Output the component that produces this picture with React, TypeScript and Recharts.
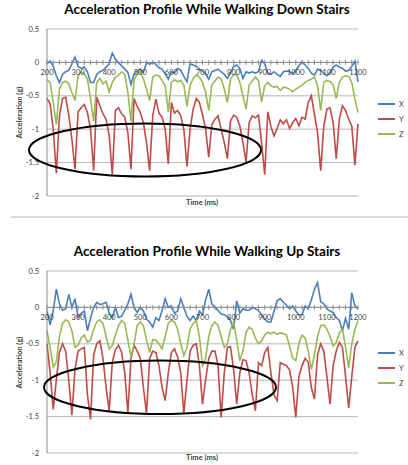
import React from 'react';
import { LineChart, Line, XAxis, YAxis, CartesianGrid, ReferenceLine, ReferenceDot } from 'recharts';

// sample times (ms), one every 10 ms
const TIMES: number[] = Array.from({ length: 101 }, (_, i) => 200 + i * 10);

const LABEL_TICKS = [200, 300, 400, 500, 600, 700, 800, 900, 1000, 1100, 1200];
const MINOR_TICKS: number[] = Array.from({ length: 51 }, (_, i) => 200 + i * 20);
const Y_TICKS = [-2, -1.5, -1, -0.5, 0, 0.5];

// walking down stairs
const DOWN_X = [
  -0.02, 0.02, -0.06, -0.2, -0.3, -0.18, -0.14, -0.12, -0.02, 0.08,
  -0.06, -0.09, -0.07, -0.14, -0.3, -0.3, -0.18, -0.14, -0.12, -0.07,
  -0.02, 0.14, 0.05, -0.01, -0.05, -0.1, -0.15, -0.33, -0.17, -0.13,
  -0.1, -0.15, 0.0, -0.03, 0.0, -0.03, -0.08, -0.1, -0.17, -0.25,
  -0.14, -0.16, -0.09, -0.12, -0.21, -0.29, -0.02, -0.04, -0.06, -0.1,
  -0.13, -0.17, -0.25, -0.14, -0.12, -0.1, -0.14, -0.18, -0.24, -0.16,
  -0.06, -0.04, -0.09, -0.24, -0.14, -0.16, -0.14, -0.16, -0.14, 0.03,
  -0.02, -0.16, -0.18, -0.14, -0.18, -0.21, -0.14, -0.13, -0.14, -0.17,
  -0.12, -0.05, 0.01, -0.04, -0.09, -0.16, -0.19, -0.1, -0.12, -0.16,
  -0.2, -0.15, -0.07, -0.04, -0.07, -0.09, -0.13, -0.12, -0.06, 0.02,
  -0.29,
];
const DOWN_Y = [
  -0.54, -0.62, -1.0, -1.66, -0.8, -0.54, -0.52, -0.79, -1.15, -1.6,
  -0.74, -0.68, -0.63, -0.75, -1.0, -1.62, -0.52, -0.65, -0.77, -0.85,
  -1.1, -1.68, -0.72, -0.68, -0.77, -0.82, -1.05, -1.6, -0.54, -0.66,
  -0.75, -0.9, -1.2, -1.62, -0.8, -0.55, -0.76, -0.82, -1.0, -1.52,
  -0.6, -0.76, -0.72, -0.8, -1.0, -1.56, -1.0, -0.7, -0.54, -0.6,
  -0.78, -1.0, -1.42, -0.93, -0.85, -0.8, -1.0, -1.2, -1.44, -0.88,
  -0.79, -0.82, -0.95, -1.2, -1.49, -0.9, -0.8, -0.83, -0.79, -1.2,
  -1.68, -0.74, -0.96, -1.1, -0.99, -0.86, -0.92, -0.86, -0.99, -0.9,
  -0.84, -0.95, -0.82, -0.85, -0.6, -0.5, -0.78, -1.05, -1.62, -0.95,
  -0.7, -0.68, -0.9, -1.44, -0.85, -0.65, -0.72, -0.85, -0.95, -1.54,
  -0.92,
];
const DOWN_Z = [
  -0.26, -0.3, -0.6, -0.93, -0.4, -0.3, -0.28, -0.32, -0.45, -0.57,
  -0.2, -0.14, -0.17, -0.25, -0.55, -0.88, -0.3, -0.24, -0.32, -0.28,
  -0.44, -0.3, -0.22, -0.19, -0.14, -0.18, -0.45, -0.88, -0.25, -0.18,
  -0.14, -0.25, -0.4, -0.57, -0.22, -0.19, -0.2, -0.27, -0.35, -0.74,
  -0.3, -0.26, -0.29, -0.27, -0.34, -0.66, -0.35, -0.24, -0.19, -0.22,
  -0.3, -0.45, -0.72, -0.34, -0.28, -0.22, -0.25, -0.4, -0.6, -0.25,
  -0.19, -0.18, -0.3, -0.5, -0.7, -0.34, -0.28, -0.22, -0.27, -0.59,
  -0.35, -0.3, -0.35, -0.37, -0.36, -0.42, -0.37, -0.38, -0.4, -0.44,
  -0.4, -0.37, -0.34, -0.3, -0.27, -0.25, -0.22, -0.35, -0.72, -0.3,
  -0.27, -0.29, -0.33, -0.54, -0.3, -0.22, -0.2, -0.21, -0.3, -0.55,
  -0.75,
];

// walking up stairs
const UP_X = [
  -0.05, -0.24, -0.05, 0.25, 0.05, -0.04, -0.02, 0.18, 0.0, 0.12,
  -0.14, -0.08, -0.05, -0.32, -0.15, 0.0, 0.07, 0.04, 0.05, 0.07,
  -0.08, -0.14, 0.0, -0.14, -0.12, -0.04, 0.05, 0.18, 0.0, -0.07,
  0.0, -0.05, -0.16, -0.2, -0.27, -0.14, -0.18, -0.04, 0.12, 0.0,
  0.02, -0.08, -0.05, 0.12, 0.0, -0.12, -0.18, -0.12, -0.18, -0.05,
  -0.1, 0.1, 0.25, 0.05, 0.0, -0.04, -0.09, -0.1, -0.13, -0.18,
  -0.3, 0.09, -0.08, -0.02, -0.04, -0.04, 0.0, -0.02, -0.04, -0.1,
  -0.16, -0.2, -0.2, -0.05, 0.09, 0.12, 0.07, 0.03, -0.02, 0.02,
  -0.05, -0.1, -0.1, 0.02, -0.02, 0.1, 0.25, 0.34, 0.08, 0.05,
  -0.02, -0.05, -0.07, -0.14, -0.18, -0.32, -0.15, -0.3, 0.2, 0.02,
  -0.02,
];
const UP_Y = [
  -0.5, -0.9, -1.4, -1.0, -0.62, -0.5, -0.6, -1.0, -1.48, -0.85,
  -0.6, -0.57, -0.55, -1.2, -1.54, -0.65, -0.5, -0.46, -0.7, -1.1,
  -1.42, -0.75, -0.58, -0.52, -0.62, -0.9, -1.45, -0.7, -0.52, -0.6,
  -0.7, -1.1, -1.46, -0.7, -0.6, -0.62, -0.8, -1.1, -1.28, -0.9,
  -0.62, -0.57, -0.68, -0.9, -1.46, -1.0, -0.6, -0.52, -0.5, -0.8,
  -1.33, -1.0, -0.7, -0.6, -0.6, -0.8, -1.51, -0.9, -0.55, -0.54,
  -0.85, -1.33, -0.9, -0.72, -0.73, -0.9, -1.2, -1.42, -0.76, -0.8,
  -0.62, -0.55, -0.9, -1.2, -1.28, -0.76, -0.78, -0.8, -0.86, -1.1,
  -1.51, -0.95, -0.8, -0.7, -0.75, -1.1, -1.26, -0.65, -0.5, -0.6,
  -0.95, -1.33, -0.8, -0.6, -0.48, -0.55, -0.95, -1.38, -0.95, -0.55,
  -0.46,
];
const UP_Z = [
  -0.32, -0.55, -0.82, -0.75, -0.4, -0.22, -0.17, -0.2, -0.32, -0.55,
  -0.52, -0.42, -0.38, -0.48, -0.45, -0.3, -0.2, -0.17, -0.22, -0.4,
  -0.57, -0.52, -0.38, -0.25, -0.18, -0.22, -0.45, -0.68, -0.5, -0.25,
  -0.2, -0.25, -0.45, -0.62, -0.44, -0.45, -0.5, -0.57, -0.4, -0.22,
  -0.18, -0.2, -0.3, -0.5, -0.66, -0.55, -0.3, -0.22, -0.18, -0.4,
  -0.8, -0.7, -0.4, -0.25, -0.2, -0.25, -0.4, -0.55, -0.5, -0.3,
  -0.2, -0.45, -0.73, -0.6, -0.35, -0.27, -0.3, -0.42, -0.5, -0.46,
  -0.38, -0.34, -0.36, -0.34, -0.37, -0.35, -0.36, -0.38, -0.53, -0.7,
  -0.73, -0.5, -0.38, -0.42, -0.6, -0.85, -0.65, -0.4, -0.25, -0.24,
  -0.3, -0.4, -0.53, -0.48, -0.35, -0.3, -0.55, -0.83, -0.5, -0.3,
  -0.18,
];

const SERIES = [
  { key: 'x', name: 'X', color: '#4a7ebb' },
  { key: 'y', name: 'Y', color: '#be4b48' },
  { key: 'z', name: 'Z', color: '#98b954' },
];

const FONT = 'Lato, "Open Sans", sans-serif';
const TEXT = '#404040';

const toRows = (xs: number[], ys: number[], zs: number[]) =>
  TIMES.map((t, i) => ({ t, x: xs[i], y: ys[i], z: zs[i] }));

const TickMark = (props: any) => {
  const { cx, cy, value } = props;
  const showLabel = LABEL_TICKS.includes(value);
  return (
    <g>
      <line x1={cx} x2={cx} y1={cy - 2.5} y2={cy + 2.5} stroke="#8c8c8c" strokeWidth={1} />
      {showLabel && (
        <text x={cx} y={cy + 13} textAnchor="middle" fontSize={7.5} fill={TEXT} fontFamily={FONT}>
          {value}
        </text>
      )}
    </g>
  );
};

interface PanelProps {
  top: number;
  height: number;
  marginTop: number;
  marginBottom: number;
  title: string;
  rows: { t: number; x: number; y: number; z: number }[];
  legendTop: number;
  ellipse: { cx: number; cy: number; rx: number; ry: number };
  timeLabelTop: number;
}

const Panel: React.FC<PanelProps> = ({ top, height, marginTop, marginBottom, title, rows, legendTop, ellipse, timeLabelTop }) => {
  return (
    <div style={{ position: 'absolute', left: 0, top, width: 408, height }}>
      <div
        style={{
          position: 'absolute', left: 0, top: marginTop - 28, width: 414, textAlign: 'center',
          fontFamily: FONT, fontWeight: 700, fontSize: 13.5, color: '#000',
        }}
      >
        {title}
      </div>
      <LineChart width={408} height={height} data={rows} margin={{ top: marginTop, right: 50, bottom: marginBottom, left: 0 }}>
        <CartesianGrid vertical={false} stroke="#b5b5b5" />
        <XAxis type="number" dataKey="t" domain={[200, 1200]} hide />
        <YAxis
          domain={[-2, 0.5]}
          ticks={Y_TICKS}
          width={47}
          tickLine={false}
          axisLine={{ stroke: '#8c8c8c' }}
          tick={{ fontSize: 7.5, fill: TEXT, fontFamily: FONT }}
          interval={0}
        />
        <ReferenceLine y={0} stroke="#8c8c8c" />
        {MINOR_TICKS.map((t) => (
          <ReferenceDot key={t} x={t} y={0} r={0} shape={(p: any) => <TickMark {...p} value={t} />} />
        ))}
        {SERIES.map((s) => (
          <Line
            key={s.key}
            type="linear"
            dataKey={s.key}
            name={s.name}
            stroke={s.color}
            strokeWidth={1.6}
            dot={false}
            isAnimationActive={false}
          />
        ))}
      </LineChart>
      <div
        style={{
          position: 'absolute', left: 20, top: marginTop, height: height - marginTop - marginBottom, width: 0,
          display: 'flex', alignItems: 'center', justifyContent: 'center',
        }}
      >
        <div
          style={{
            transform: 'rotate(-90deg)', whiteSpace: 'nowrap', fontFamily: FONT, fontWeight: 700,
            fontSize: 7.5, color: TEXT,
          }}
        >
          Acceleration (g)
        </div>
      </div>
      <div
        style={{
          position: 'absolute', left: 152, width: 100, top: timeLabelTop, textAlign: 'center',
          fontFamily: FONT, fontWeight: 700, fontSize: 7.5, color: TEXT,
        }}
      >
        Time (ms)
      </div>
      {SERIES.map((s, i) => (
        <div
          key={s.key}
          style={{ position: 'absolute', left: 378, top: legendTop + i * 15 - 5, height: 10, display: 'flex', alignItems: 'center' }}
        >
          <span style={{ display: 'inline-block', width: 17, height: 2, background: s.color }} />
          <span style={{ marginLeft: 4, fontFamily: FONT, fontSize: 7.5, color: TEXT }}>{s.name}</span>
        </div>
      ))}
      <svg style={{ position: 'absolute', left: 0, top: 0, pointerEvents: 'none' }} width={408} height={height}>
        <ellipse cx={ellipse.cx} cy={ellipse.cy} rx={ellipse.rx} ry={ellipse.ry} fill="none" stroke="#000" strokeWidth={2} />
      </svg>
    </div>
  );
};

export default function App() {
  return (
    <div style={{ position: 'absolute', left: 0, top: 0, width: 408, height: 465, background: '#fff', overflow: 'hidden' }}>
      <Panel
        top={0}
        height={217}
        marginTop={29}
        marginBottom={21}
        title="Acceleration Profile While Walking Down Stairs"
        rows={toRows(DOWN_X, DOWN_Y, DOWN_Z)}
        legendTop={104}
        ellipse={{ cx: 145, cy: 150, rx: 116, ry: 26.5 }}
        timeLabelTop={198}
      />
      <div style={{ position: 'absolute', left: 11, top: 216, width: 397, height: 2, background: '#d9d9d9' }} />
      <Panel
        top={230}
        height={235}
        marginTop={41}
        marginBottom={12}
        title="Acceleration Profile While Walking Up Stairs"
        rows={toRows(UP_X, UP_Y, UP_Z)}
        legendTop={123}
        ellipse={{ cx: 160, cy: 157.3, rx: 116, ry: 26.7 }}
        timeLabelTop={223}
      />
    </div>
  );
}
